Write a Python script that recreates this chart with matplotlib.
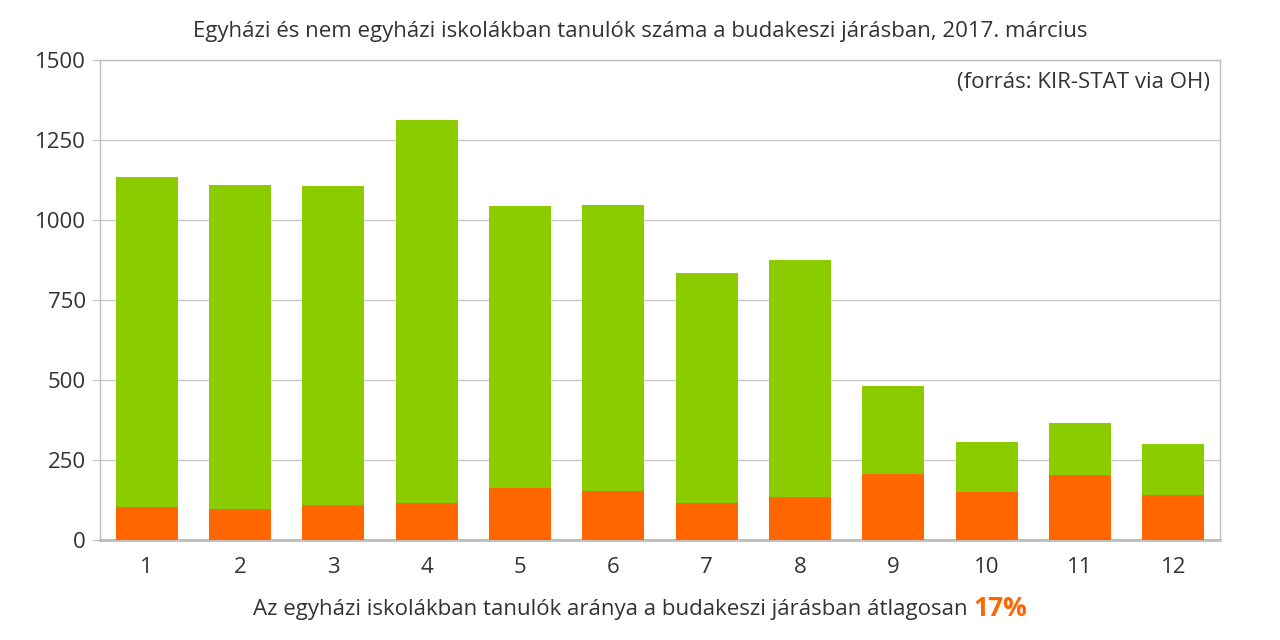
import matplotlib.pyplot as plt
import numpy as np

plt.rcParams['font.family'] = ['Open Sans', 'DejaVu Sans']

# iskolák (1-12), tanulók száma
schools = ['1', '2', '3', '4', '5', '6', '7', '8', '9', '10', '11', '12']
total = [1134, 1109, 1106, 1312, 1044, 1047, 834, 875, 481, 306, 367, 300]
church = [104, 96, 110, 117, 162, 153, 116, 134, 205, 151, 202, 142]
non_church = [t - c for t, c in zip(total, church)]

title = 'Egyházi és nem egyházi iskolákban tanulók száma a budakeszi járásban, 2017. március'
source = '(forrás: KIR-STAT via OH)'
footer = 'Az egyházi iskolákban tanulók aránya a budakeszi járásban átlagosan '
footer_pct = '17%'

green = '#8acc00'
orange = '#ff6600'
grey = '#bdbdbd'
txt = '#333333'

fig = plt.figure(figsize=(12.8, 6.4), dpi=100)
ax = fig.add_axes([100 / 1280, 100 / 640, 1120 / 1280, 480 / 640])

x = np.arange(len(schools))
ax.bar(x, church, width=0.665, color=orange, zorder=3)
ax.bar(x, non_church, width=0.665, bottom=church, color=green, zorder=3)

ax.set_xlim(-0.5, len(schools) - 0.5)
ax.set_ylim(0, 1500)
ax.set_yticks([0, 250, 500, 750, 1000, 1250, 1500])
ax.set_xticks(x)
ax.set_xticklabels(schools)
ax.yaxis.grid(True, color='#c8c8c8', linewidth=1, zorder=0)
for s in ax.spines.values():
    s.set_color(grey)
    s.set_linewidth(1)
ax.spines['bottom'].set_linewidth(2)
ax.tick_params(axis='y', length=6, color=grey, labelsize=16, labelcolor=txt, pad=4)
ax.tick_params(axis='x', length=0, labelsize=16, labelcolor=txt, pad=12)

fig.text(0.5, 1 - 31 / 640, title, ha='center', va='center', fontsize=16, color=txt)
ax.text(0.991, 0.975, source, transform=ax.transAxes, ha='right', va='top',
        fontsize=16, color=txt)

t1 = fig.text(253 / 1280, 1 - 609 / 640, footer, ha='left', va='center',
              fontsize=16, color=txt)
fig.canvas.draw()
bb = t1.get_window_extent(fig.canvas.get_renderer())
fig.text(bb.x1 / 1280, 1 - 609 / 640, footer_pct, ha='left', va='center',
         fontsize=19, fontweight='bold', color=orange)

fig.savefig('out.png', dpi=100)
